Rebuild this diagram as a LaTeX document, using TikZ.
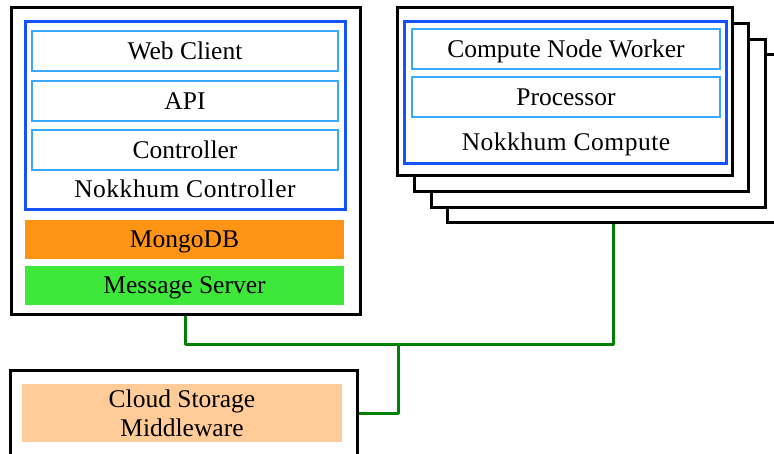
\documentclass[tikz,border=0pt]{standalone}
\usepackage{fontspec}
\setmainfont{Liberation Serif}
\begin{document}
\begin{tikzpicture}[x=1pt,y=-1pt,
  every node/.style={font=\fontsize{25.5}{29}\selectfont, text=black, inner sep=0pt,
    text height=17pt, text depth=0pt},
  hostbox/.style={draw=black, line width=3pt, fill=white, rectangle},
  groupbox/.style={draw=groupblue, line width=3pt, fill=white, rectangle},
  partbox/.style={draw=partblue, line width=2pt, fill=white, rectangle},
  svcbox/.style={rectangle, draw=none},
  wire/.style={draw=wiregreen, line width=3pt, line join=round},
  spaced/.style={font=\fontsize{25.5}{29}\selectfont\addfontfeature{LetterSpace=2}}
]
\definecolor{groupblue}{HTML}{1452FF}
\definecolor{partblue}{HTML}{3AA8FF}
\definecolor{wiregreen}{HTML}{008000}
\definecolor{mongoorange}{HTML}{FF9314}
\definecolor{msggreen}{HTML}{3EE83A}
\definecolor{storagepeach}{HTML}{FFCC99}

\useasboundingbox (0,0) rectangle (774,454);

% ---- controller host ----
\node[hostbox, minimum width=349pt, minimum height=307pt] (ctrl) at (185.5,161.5) {};
\node[groupbox, minimum width=320pt, minimum height=188pt] (ctrlgrp) at (185,116) {};
\node[partbox, minimum width=306pt, minimum height=40pt] (web) at (185,51) {Web Client};
\node[partbox, minimum width=306pt, minimum height=40pt] (api) at (185,101) {API};
\node[partbox, minimum width=306pt, minimum height=40pt] (ctl) at (185,150) {Controller};
\node[spaced] (ctrllabel) at (185,189) {Nokkhum Controller};
\node[svcbox, fill=mongoorange, minimum width=319pt, minimum height=39pt] (mongo) at (184.5,239.5) {MongoDB};
\node[svcbox, fill=msggreen, minimum width=319pt, minimum height=39pt] (msg) at (184.5,285.5) {Message Server};

% ---- stacked compute hosts (back to front) ----
\node[hostbox, minimum width=332pt, minimum height=168pt] (stack4) at (613,139) {};
\node[hostbox, minimum width=334pt, minimum height=168pt] (stack3) at (598,124) {};
\node[hostbox, minimum width=334pt, minimum height=168pt] (stack2) at (581,108) {};
\node[hostbox, minimum width=335pt, minimum height=168pt] (stack1) at (564.5,92) {};
\node[groupbox, minimum width=322pt, minimum height=142pt] (compgrp) at (565,93) {};
\node[partbox, minimum width=308pt, minimum height=40pt] (worker) at (566,49) {Compute Node Worker};
\node[partbox, minimum width=308pt, minimum height=40pt] (proc) at (566,97) {Processor};
\node[spaced] (complabel) at (566,142) {Nokkhum Compute};

% ---- cloud storage host ----
\node[hostbox, minimum width=347pt, minimum height=92pt] (storage) at (183.5,417) {};
\node[svcbox, fill=storagepeach, minimum width=320pt, minimum height=58pt,
      align=center, text height=, text depth=] (middleware) at (182,413) {Cloud Storage\\Middleware};

% ---- network wiring ----
\coordinate (jn) at (398,345);
\coordinate (bend) at (398,413);
\draw[wire] (ctrl.south) |- (jn) -| (stack4.south);
\draw[wire] (jn) -- (bend) -- (bend -| storage.east);
\end{tikzpicture}
\end{document}
